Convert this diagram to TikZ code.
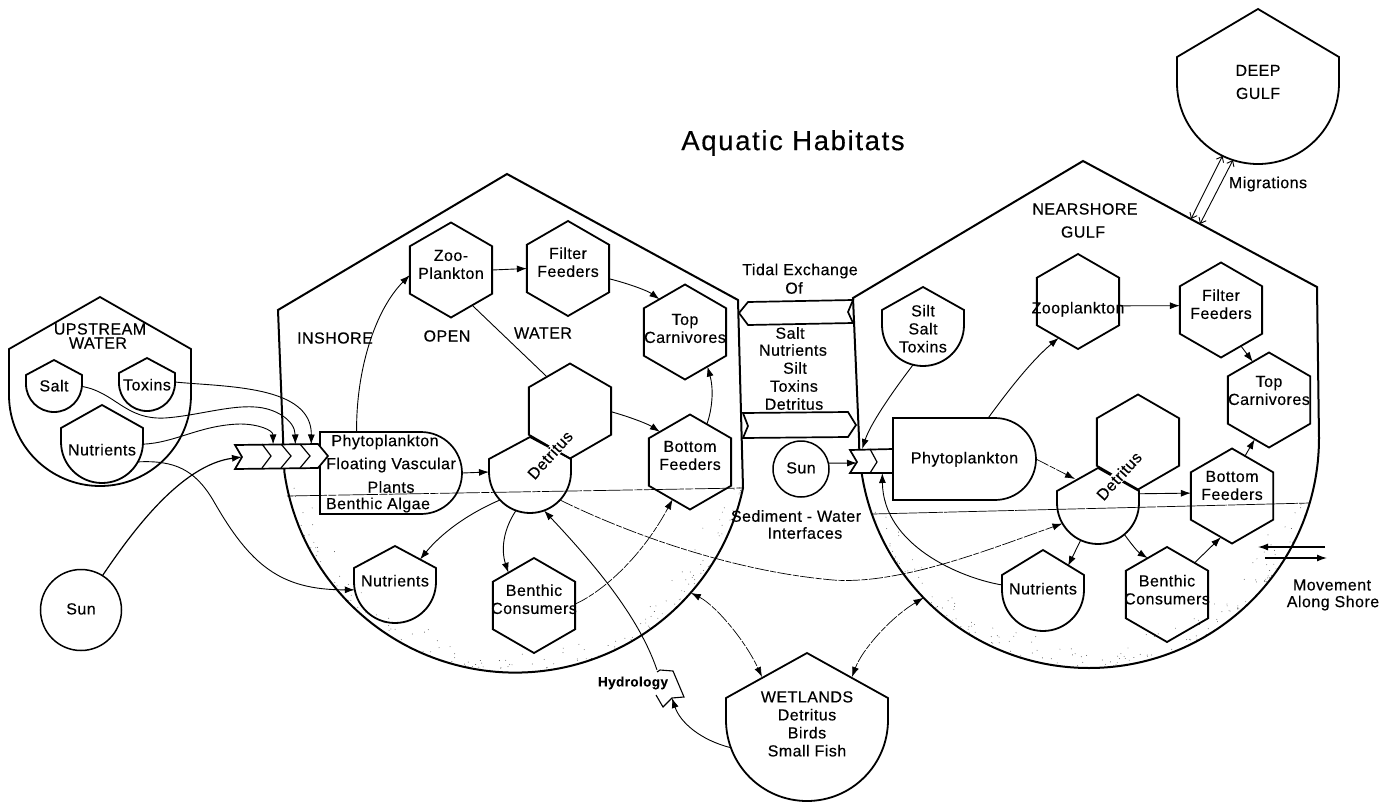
\documentclass[tikz,border=0pt]{standalone}
\usepackage{fontspec}
\setmainfont[LetterSpace=3,FakeBold=0.35]{Liberation Sans}
\usetikzlibrary{arrows.meta,shapes.geometric,shapes.misc}
\newcommand\tx[2][0]{\smash{\makebox[0pt]{\raisebox{\dimexpr-.32em-#1pt\relax}{\begin{tabular}{@{}c@{}}#2\end{tabular}}}}}
\tikzset{
  main/.style={draw=black,line width=2pt,line join=miter},
  hexa/.style={regular polygon,regular polygon sides=6,shape border rotate=30,minimum size=95pt,draw=black,line width=1.8pt,inner sep=0pt,outer sep=0pt},
  tankline/.style={draw=black,line width=1.8pt},
  tanknode/.style={circle,inner sep=0pt,outer sep=0pt},
  conn/.style={draw=black,line width=.9pt,-{Latex[length=10pt,width=7pt]}},
  plainc/.style={draw=black,line width=.9pt},
  faint/.style={draw=black,line width=.7pt,dash pattern=on 14pt off 1.5pt on 6pt off 1.5pt,-{Latex[length=10pt,width=7pt]}},
  both/.style={draw=black,line width=.7pt,dash pattern=on 14pt off 1.5pt on 6pt off 1.5pt,{Latex[length=10pt,width=7pt]}-{Latex[length=10pt,width=7pt]}},
  lab/.style={inner sep=0pt,outer sep=0pt,align=center},
  phy/.style={rounded rectangle,rounded rectangle left arc=none,minimum height=82pt,draw=black,line width=1.7pt,inner sep=0pt,outer sep=0pt},
  chev/.style={draw=black,line width=1.7pt,fill=white,line join=miter},
  bar/.style={rectangle,inner sep=0pt,outer sep=0pt},
  det/.style={fill=white,inner sep=.6pt,rotate=48},
  sed/.style={draw=black,line width=.7pt},
}
\newcommand\tank[7]{%
  \draw[tankline] ({#2-#4},{-#6}) -- (#2,{-#5}) -- ({#2+#4},{-#6}) -- ({#2+#4},{-#3})
     arc[start angle=0,end angle=-180,radius=#4] -- cycle;
  \node[tanknode,minimum size=#4*2pt] (#1) at (#2,{-#3}) {#7};
}
\begin{document}
\begin{tikzpicture}[x=1pt,y=1pt,font=\fontsize{16}{18}\selectfont]
\useasboundingbox (0,0) rectangle (1398,-806);
\fill[white] (0,0) rectangle (1398,-806);

% stipple under the sediment lines
\pgfmathsetseed{7}
\foreach \i in {1,...,170}{
  \pgfmathsetmacro\aa{-12-rnd*156}
  \pgfmathsetmacro\rr{233-rnd*rnd*30}
  \fill[black!70] ({515+\rr*cos(\aa)},{-440+\rr*sin(\aa)}) circle (.45);
  \pgfmathsetmacro\ab{-17-rnd*146}
  \pgfmathsetmacro\rs{230-rnd*rnd*30}
  \fill[black!70] ({1089+\rs*cos(\ab)},{-438+\rs*sin(\ab)}) circle (.45);
}

% large habitats
\draw[main] (278,-310) -- (507,-174) -- (738,-300) -- (743,-488)
   arc[start angle=-12,end angle=-172,radius=233] -- cycle;
\node[tanknode,minimum size=466pt] (inshore) at (515,-440) {};
\draw[main] (853,-298) -- (1083,-161) -- (1317,-287) -- (1319,-438)
   arc[start angle=0,end angle=-180,radius=230] -- cycle;
\node[tanknode,minimum size=460pt] (nearshore) at (1089,-438) {};
\draw[sed,dash pattern=on 40pt off 1.5pt on 8pt off 1.5pt] (287,-496) -- (742,-488);
\draw[sed,dash pattern=on 70pt off 1pt] (873,-514) -- (1310,-503);

\tank{deep}{1258}{83}{81}{9}{57}{\tx{DEEP\\[5pt]GULF}}
\tank{upstream}{100}{395}{91}{297}{349}{}
\tank{saltU}{54}{384}{28}{360}{375}{\tx[3]{Salt}}
\tank{toxU}{147}{383}{28}{358}{373}{\tx[3]{Toxins}}
\tank{nutU}{102}{442}{41}{405}{428}{\tx[9]{Nutrients}}
\tank{nutL}{395}{582}{41}{546}{568}{\tx{Nutrients}}
\tank{detL}{530}{472}{41}{437}{459}{}
\tank{silt}{923}{325}{41}{287}{310}{\tx[5]{Silt\\Salt\\Toxins}}
\tank{detR}{1098}{503}{41}{468}{491}{}
\tank{nutR}{1043}{590}{41}{550}{575}{\tx{Nutrients}}
\tank{wet}{807}{720}{81}{653}{698}{\tx[5]{WETLANDS\\Detritus\\Birds\\Small Fish}}

\node[circle,draw=black,line width=1.5pt,minimum size=81pt,inner sep=0pt,outer sep=0pt] (sunL) at (81,-610) {\tx{Sun}};
\node[circle,draw=black,line width=1.5pt,minimum size=56pt,inner sep=0pt,outer sep=0pt] (sunR) at (801,-469) {\tx{Sun}};

% hexagonal units, left
\node[hexa] (zooL) at (451,-270) {\tx[-4.5]{Zoo-\\Plankton}};
\node[hexa] (filtL) at (568,-268.5) {\tx[-5]{Filter\\Feeders}};
\node[hexa] (topL) at (685,-332) {\tx[-2.5]{Top\\Carnivores}};
\node[hexa] (dhexL) at (570,-411) {};
\node[hexa] (botL) at (690,-462) {\tx[-5.5]{Bottom\\Feeders}};
\node[hexa] (benL) at (534,-605.5) {\tx[-5]{Benthic\\Consumers}};
% hexagonal units, right
\node[hexa] (zooR) at (1078,-301.5) {\tx[7.5]{Zooplankton}};
\node[hexa] (filtR) at (1221,-310) {\tx[-4.5]{Filter\\Feeders}};
\node[hexa] (topR) at (1269,-400) {\tx[-8.5]{Top\\Carnivores}};
\node[hexa] (dhexR) at (1138,-442) {};
\node[hexa] (botR) at (1232,-496) {\tx[-9.5]{Bottom\\Feeders}};
\node[hexa] (benR) at (1167,-594.5) {\tx[-3.5]{Benthic\\Consumers}};

% producers
\node[phy,minimum width=142pt] (phyL) at (391,-473) {};
\node[phy,minimum width=143pt] (phyR) at (964.5,-459) {\tx{Phytoplankton}};

% energy-input bars
\draw[chev] (235,-445) -- (318,-444) -- (328,-456) -- (318,-468) -- (235,-469) -- (242,-457) -- cycle;
\draw[line width=1.2pt] (262,-444) -- (271,-456) -- (262,-468);
\draw[line width=1.2pt] (281,-444) -- (291,-456) -- (281,-468);
\draw[line width=1.2pt] (300,-444) -- (310,-456) -- (300,-468);
\node[bar,minimum width=93pt,minimum height=24pt] (barL) at (281.5,-456.5) {};
\coordinate (barLin) at (242,-457);
\draw[chev] (850,-450) -- (893,-449) -- (893,-473) -- (850,-473) -- (857,-462) -- cycle;
\draw[line width=1.2pt] (870,-449) -- (877,-462) -- (870,-473);
\node[bar,minimum width=43pt,minimum height=24pt] (barR) at (871.5,-461) {};
\coordinate (barRin) at (857,-463);

% tidal exchange arrows
\draw[chev] (853,-300) -- (748,-302) -- (739,-313) -- (748,-325) -- (853,-323) -- (848,-312) -- cycle;
\draw[chev] (743,-413) -- (848,-412) -- (856,-425) -- (848,-437) -- (743,-438) -- (748,-426) -- cycle;

% coordinates on roofs
\coordinate (nutLroof) at (420,-559.5);
\coordinate (nutRroof) at (1068,-566);
\coordinate (detRroof) at (1075,-479);
\coordinate (wetroofL) at (762,-677);
\coordinate (wetroofR) at (852,-677);
\coordinate (migA) at (1191,-219);
\coordinate (migB) at (1200,-224);
\coordinate (hydA) at (657,-670);
\coordinate (hydB) at (672,-698);

% connectors, upstream
\draw[conn] (toxU.2) .. controls (225,-387) and (312,-385) .. (barL.22);
\draw[conn] (saltU.-5) .. controls (115,-392) and (125,-420) .. (165,-418)
   .. controls (195,-416) and (230,-405) .. (255,-407)
   .. controls (275,-408) and (295,-420) .. (barL.41.6);
\draw[conn] (nutU.-3) .. controls (175,-443) and (200,-425) .. (240,-424)
   .. controls (258,-424) and (273,-430) .. (barL.125.3);
\draw[conn] (nutU.-29) .. controls (175,-460) and (195,-470) .. (213,-500)
   .. controls (250,-565) and (280,-590) .. (nutL.191);
\draw[conn,line width=1.2pt] (sunL.58) .. controls (130,-535) and (180,-465) .. (barLin);
% connectors, inshore
\draw[conn] (phyL.130) .. controls (356,-370) and (375,-310) .. (zooL.187);
\draw[conn] (phyL.east) -- (detL.west);
\draw[conn] (zooL.0) -- (filtL.180);
\draw[conn] (filtL.-14) .. controls (630,-284) and (648,-291) .. (topL.128);
\draw[conn] (dhexL.-1) .. controls (630,-417) and (648,-424) .. (botL.135);
\draw[conn] (botL.66) .. controls (712,-410) and (714,-390) .. (topL.-57);
\draw[plainc] (zooL.-59) -- (dhexL.124);
\draw[conn] (detL.223) .. controls (465,-515) and (440,-535) .. (nutLroof);
\draw[conn] (detL.250) .. controls (503,-530) and (501,-550) .. (benL.128);
\draw[faint] (benL.2) .. controls (600,-593) and (640,-560) .. (botL.245);
\draw[faint] (detL.-43) .. controls (625,-532) and (730,-571) .. (833,-580)
   .. controls (900,-585) and (990,-549) .. (detR.210);
\draw[conn] (hydA) .. controls (640,-620) and (600,-570) .. (detL.-70);
\draw[conn] (wet.200) .. controls (700,-740) and (680,-722) .. (hydB);
\draw[both] (inshore.-41) .. controls (715,-605) and (745,-640) .. (wetroofL);
\draw[both] (nearshore.224) .. controls (890,-618) and (862,-650) .. (wetroofR);
% connectors, nearshore
\draw[conn] (sunR.12) -- (barRin);
\draw[conn] (silt.256) .. controls (890,-395) and (870,-425) .. (barR.128.4);
\draw[conn] (nutR.173) .. controls (960,-578) and (883,-545) .. (barR.-48.5);
\draw[conn] (phyR.60.8) .. controls (1005,-395) and (1030,-362) .. (zooR.242.5);
\draw[faint] (phyR.east) -- (detRroof);
\draw[conn] (zooR.-6) -- (filtR.174.6);
\draw[conn] (filtR.-61.5) -- (topR.113);
\draw[conn] (botR.72) -- (topR.250.7);
\draw[conn] (detR.13) -- (botR.176);
\draw[conn] (detR.245) -- (nutRroof);
\draw[conn] (detR.-50) .. controls (1132,-545) and (1138,-552) .. (benR.118.7);
\draw[conn] (benR.49) -- (botR.255);
% migrations
\draw[plainc,{Straight Barb[length=5pt,width=8pt]}-{Straight Barb[length=5pt,width=8pt]}] (deep.244.7) -- (migA);
\draw[plainc,{Straight Barb[length=5pt,width=8pt]}-{Straight Barb[length=5pt,width=8pt]}] (deep.252.7) -- (migB);
% movement along shore
\coordinate (mvA) at (1258,-547); \coordinate (mvB) at (1325,-547);
\coordinate (mvC) at (1265,-558); \coordinate (mvD) at (1327,-558);
\draw[conn,line width=1.3pt] (mvB) -- (mvA);
\draw[conn,line width=1.3pt] (mvC) -- (mvD);

% hydrology valve
\draw[line width=1.1pt,line join=miter] (657,-672) -- (660,-670) -- (673,-671) -- (684,-697) -- (672,-698) -- (663,-707) -- (656,-695);
\node[lab,font=\fontsize{13.5}{15}\selectfont\bfseries] (hydlab) at (633,-683) {Hydrology};

% text
\node[det] (detlabL) at (550,-455) {Detritus};
\node[det] (detlabR) at (1119,-476) {Detritus};
\node[lab] (p1) at (385,-442) {Phytoplankton};
\node[lab] (p2) at (391,-465) {Floating Vascular};
\node[lab] (p3) at (391,-487) {Plants};
\node[lab] (p4) at (378,-505) {Benthic Algae};
\node[lab,font=\fontsize{27.5}{30}\selectfont\addfontfeature{LetterSpace=6}] (title) at (793,-143) {Aquatic Habitats};
\node[lab] (up1) at (100,-329) {UPSTREAM};
\node[lab] (up2) at (98,-343) {WATER};
\node[lab] (ins) at (335,-338) {INSHORE};
\node[lab] (opn) at (447,-336) {OPEN};
\node[lab] (wat) at (543,-333) {WATER};
\node[lab] (ns1) at (1085,-209) {NEARSHORE};
\node[lab] (ns2) at (1083,-232) {GULF};
\node[lab] (mig) at (1268,-184) {Migrations};
\node[lab] (te1) at (800,-271) {Tidal Exchange};
\node[lab] (te2) at (794,-288) {Of};
\node[lab] (e1) at (790,-333) {Salt};
\node[lab] (e2) at (793,-350) {Nutrients};
\node[lab] (e3) at (795,-368) {Silt};
\node[lab] (e4) at (794,-386) {Toxins};
\node[lab] (e5) at (794,-404) {Detritus};
\node[lab] (sw1) at (796,-516) {Sediment - Water};
\node[lab] (sw2) at (805,-533) {Interfaces};
\node[lab] (mv1) at (1332,-585) {Movement};
\node[lab] (mv2) at (1333,-603) {Along Shore};
\end{tikzpicture}
\end{document}
